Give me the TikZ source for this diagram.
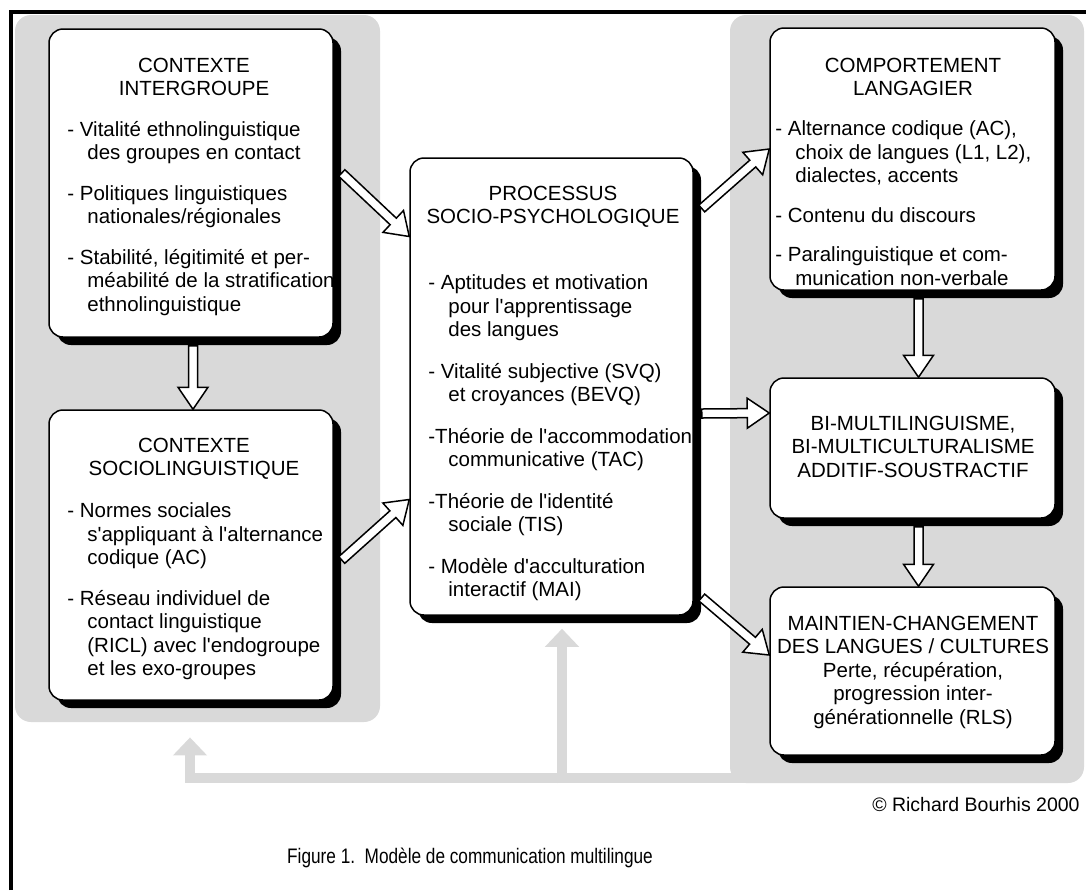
\documentclass[tikz,border=0pt]{standalone}
\usepackage{fontspec}
\setmainfont{Liberation Sans}
\usetikzlibrary{positioning, calc, shadows, arrows.meta}

\newcommand\ind{\hspace*{10pt}}
\newcommand\apos{\textquotesingle}
% hollow white arrow from #1 to #2
\newcommand\hollowarrow[2]{%
  \coordinate (ha-s) at (#1);
  \coordinate (ha-e) at (#2);
  \coordinate (ha-b) at ($(ha-e)!11pt!(ha-s)$);
  \draw[harrow] ($(ha-s)!2.25pt!90:(ha-e)$) -- ($(ha-b)!2.25pt!-90:(ha-s)$)
    -- ($(ha-b)!7.5pt!-90:(ha-s)$) -- (ha-e) -- ($(ha-b)!7.5pt!90:(ha-s)$)
    -- ($(ha-b)!2.25pt!90:(ha-s)$) -- ($(ha-s)!2.25pt!-90:(ha-e)$) -- cycle;
}

\tikzset{
  panel/.style={fill=gray!30, rounded corners=8pt, inner sep=0pt},
  stagebox/.style={draw, line width=0.75pt, fill=white, rounded corners=7pt, inner sep=0pt,
    drop shadow={shadow xshift=4pt, shadow yshift=-4pt, fill=black, opacity=1}},
  ttl/.style={align=center, anchor=north, inner sep=0pt, font=\fontsize{10.25pt}{11.75pt}\selectfont},
  lst/.style={align=left, anchor=north west, inner sep=0pt, font=\fontsize{10.25pt}{11.75pt}\selectfont},
  harrow/.style={draw=black, fill=white, line width=0.75pt, line join=miter},
  fback/.style={draw=gray!30, line width=5pt, -{Triangle[width=16.5pt, length=9pt]}}
}

\begin{document}
\begin{tikzpicture}[x=0.5pt, y=-0.5pt]
    \useasboundingbox (0,0) rectangle (1086,890);

    % frame
    \draw[line width=2pt] (11,890) -- (11,12) -- (1086,12);

    % grey panels
    \node[panel, minimum width=182.5pt, minimum height=353.5pt] (lp) at (197.5,368.5) {};
    \node[panel, minimum width=177pt, minimum height=384pt] (rp) at (907,399) {};

    % left column
    \node[stagebox, minimum width=142pt, minimum height=154pt] (ci) at (191,183) {};
    \node[ttl] (ci-t) at (194,57.5) {CONTEXTE\\INTERGROUPE};
    \node[lst] (ci-l) at (67,120.5) {- Vitalité ethnolinguistique\\\ind des groupes en contact\\[8.5pt]
        - Politiques linguistiques\\\ind nationales/régionales\\[8.5pt]
        - Stabilité, légitimité et per-\\\ind méabilité de la stratification\\\ind ethnolinguistique};

    \node[stagebox, minimum width=142pt, minimum height=145pt] (cs) at (191,555) {};
    \node[ttl] (cs-t) at (194,437.5) {CONTEXTE\\SOCIOLINGUISTIQUE};
    \node[lst] (cs-l) at (67,502.5) {- Normes sociales\\\ind s\apos appliquant à l\apos alternance\\\ind codique (AC)\\[8.5pt]
        - Réseau individuel de\\\ind contact linguistique\\\ind (RICL) avec l\apos endogroupe\\\ind et les exo-groupes};

    % middle column
    \node[stagebox, minimum width=141.5pt, minimum height=228.5pt] (psp) at (551.5,386.5) {};
    \node[ttl] (psp-t) at (553,185.5) {PROCESSUS\\SOCIO-PSYCHOLOGIQUE};
    \node[lst] (psp-l) at (428,274.5) {- Aptitudes et motivation\\\ind pour l\apos apprentissage\\\ind des langues\\[9pt]
        - Vitalité subjective (SVQ)\\\ind et croyances (BEVQ)\\[9pt]
        -Théorie de l\apos accommodation\\\ind communicative (TAC)\\[9pt]
        -Théorie de l\apos identité\\\ind sociale (TIS)\\[9pt]
        - Modèle d\apos acculturation\\\ind interactif (MAI)};

    % right column
    \node[stagebox, minimum width=142.5pt, minimum height=131pt] (cl) at (912.5,159) {};
    \node[ttl] (cl-t) at (913,57.5) {COMPORTEMENT\\LANGAGIER};
    \node[lst] (cl-l) at (775,120.5) {- Alternance codique (AC),\\\ind choix de langues (L1, L2),\\\ind dialectes, accents\\[8pt]
        - Contenu du discours\\[8pt]
        - Paralinguistique et com-\\\ind munication non-verbale};

    \node[stagebox, minimum width=142.5pt, minimum height=70pt] (bm) at (912.5,448) {};
    \node[ttl] (bm-t) at (913,415.5) {BI-MULTILINGUISME,\\BI-MULTICULTURALISME\\ADDITIF-SOUSTRACTIF};

    \node[stagebox, minimum width=142.5pt, minimum height=84pt] (mc) at (912.5,671) {};
    \node[ttl] (mc-t) at (913,615.5) {MAINTIEN-CHANGEMENT\\DES LANGUES / CULTURES\\Perte, récupération,\\progression inter-\\générationnelle (RLS)};

    % feedback lines
    \coordinate (fb) at ($(psp.south)+(10.5,13)$);
    \coordinate (fl) at ($(lp.south)+(-7.5,15)$);
    \draw[fback] ($(rp.south west)+(20,-5)$) -| (fl);
    \draw[fback] (fb |- rp.south) -- (fb);

    % hollow arrows
    \hollowarrow{$(ci.east)+(8,-10)$}{$(psp.west)+(0,-150)$}
    \hollowarrow{$(cs.east)+(8,5)$}{$(psp.west)+(0,113)$}
    \hollowarrow{$(ci.south)+(2,8)$}{$(cs.north)+(2,0)$}
    \hollowarrow{$(psp.east)+(8,-178)$}{$(cl.west)+(0,-10)$}
    \hollowarrow{$(psp.east)+(8,27)$}{$(bm.west)+(0,-35)$}
    \hollowarrow{$(psp.east)+(8,211)$}{$(mc.west)+(0,-16)$}
    \hollowarrow{$(cl.south)+(6,8)$}{$(bm.north)+(6,0)$}
    \hollowarrow{$(bm.south)+(6,8)$}{$(mc.north)+(6,0)$}

    % credits and caption
    \node[anchor=east, inner sep=0pt, font=\fontsize{9.75pt}{11pt}\selectfont] (cred) at (1080,805) {© Richard Bourhis 2000};
    \node[inner sep=0pt, font=\fontsize{10.5pt}{12pt}\selectfont] (cap) at (470,858) {\scalebox{0.82}[1]{Figure 1.\ \ Modèle de communication multilingue}};
\end{tikzpicture}
\end{document}
